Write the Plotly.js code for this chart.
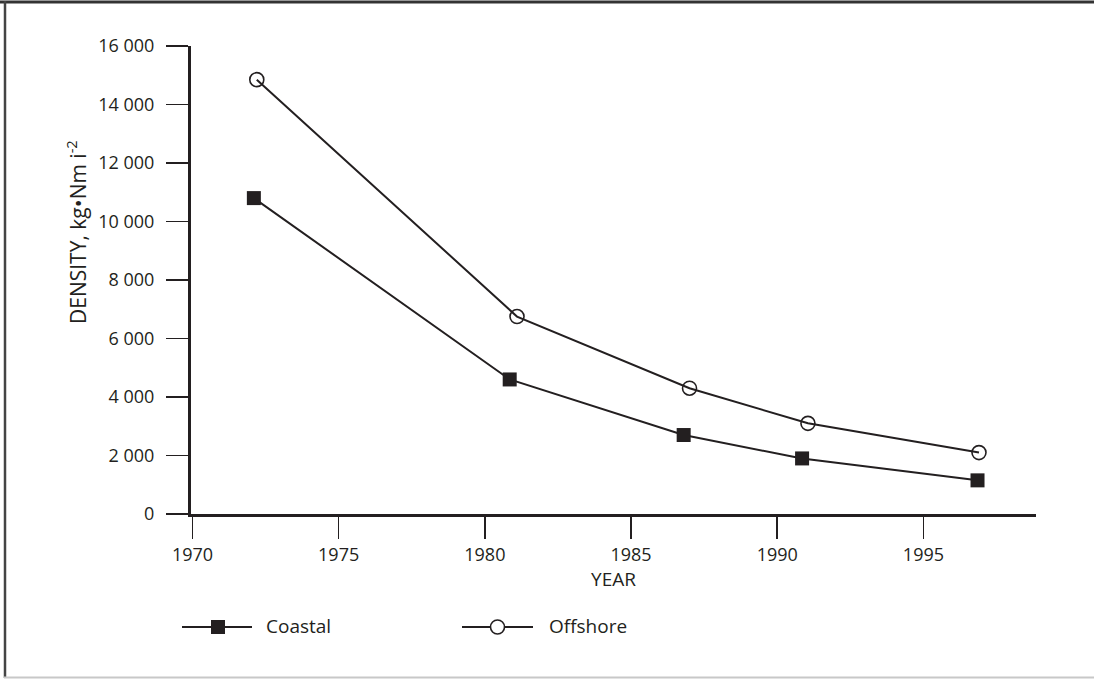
<!DOCTYPE html>
<html>
<head>
<meta charset="utf-8">
<script src="https://cdn.plot.ly/plotly-3.0.1.min.js"></script>
<style>
html,body{margin:0;padding:0;background:#fff;}
#chart{width:1094px;height:679px;}
</style>
</head>
<body>
<div id="chart"></div>
<script>
// Data
var coastalYears  = [1972.1, 1980.85, 1986.8, 1990.85, 1996.85];
var coastalValues = [10800, 4600, 2700, 1900, 1150];
var offshoreYears  = [1972.2, 1981.1, 1987.0, 1991.05, 1996.9];
var offshoreValues = [14850, 6750, 4300, 3100, 2100];
var seriesNames = ["Coastal", "Offshore"];
var yTickValues = [0, 2000, 4000, 6000, 8000, 10000, 12000, 14000, 16000];
var xTickValues = [1970, 1975, 1980, 1985, 1990, 1995];

var INK = "#231f20";
var FONT = "Open Sans, sans-serif";
var W = 1094, H = 679;
var L = 191, R = 1036, T = 46, B = 514;
function px(x){ return (x - L) / (R - L); }
function py(y){ return (B - y) / (B - T); }

var traces = [
  {
    x: coastalYears, y: coastalValues, name: seriesNames[0],
    type: "scatter", mode: "lines+markers",
    line: {color: INK, width: 2},
    marker: {symbol: "square", size: 14, color: INK},
    showlegend: false, cliponaxis: false
  },
  {
    x: offshoreYears, y: offshoreValues, name: seriesNames[1],
    type: "scatter", mode: "lines+markers",
    line: {color: INK, width: 2},
    marker: {symbol: "circle-open", size: 14, color: INK, line: {width: 1.6, color: INK}},
    showlegend: false, cliponaxis: false
  }
];

var shapes = [
  // outer frame
  {type: "line", xref: "paper", yref: "paper", x0: px(0), x1: px(W), y0: py(2), y1: py(2), line: {color: "#333", width: 3}},
  {type: "line", xref: "paper", yref: "paper", x0: px(5), x1: px(5), y0: py(1), y1: py(678), line: {color: "#444", width: 2.5}},
  {type: "line", xref: "paper", yref: "paper", x0: px(4), x1: px(W), y0: py(677.5), y1: py(677.5), line: {color: "#c8c8c8", width: 2}},
  // legend: Coastal
  {type: "line", xref: "paper", yref: "paper", x0: px(182), x1: px(252), y0: py(627), y1: py(627), line: {color: INK, width: 2}},
  {type: "rect", xref: "paper", yref: "paper", x0: px(211), x1: px(225), y0: py(620), y1: py(634), fillcolor: INK, line: {width: 0}},
  // legend: Offshore
  {type: "line", xref: "paper", yref: "paper", x0: px(462), x1: px(533), y0: py(627), y1: py(627), line: {color: INK, width: 2}},
  {type: "circle", xref: "paper", yref: "paper", x0: px(490.5), x1: px(504.5), y0: py(620), y1: py(634), fillcolor: "#fff", line: {color: INK, width: 1.6}}
];

var annotations = [
  {xref: "paper", yref: "paper", x: px(76), y: py(232), text: "DENSITY, kg\u2022Nm i<sup>-2</sup>",
   textangle: -90, showarrow: false, xanchor: "center", yanchor: "middle",
   font: {family: FONT, size: 21, color: INK}},
  {xref: "paper", yref: "paper", x: px(264), y: py(626), text: seriesNames[0], showarrow: false,
   xanchor: "left", yanchor: "middle", font: {family: FONT, size: 19, color: INK}},
  {xref: "paper", yref: "paper", x: px(547), y: py(626), text: seriesNames[1], showarrow: false,
   xanchor: "left", yanchor: "middle", font: {family: FONT, size: 19, color: INK}}
];

var layout = {
  width: W, height: H,
  margin: {l: L, r: W - R, t: T, b: H - B, pad: 0},
  paper_bgcolor: "#fff", plot_bgcolor: "#fff",
  separators: ". ",
  font: {family: FONT, size: 18, color: INK},
  showlegend: false,
  xaxis: {
    range: [1969.95, 1998.85],
    tickvals: xTickValues,
    ticks: "outside", ticklen: 22, tickwidth: 1.5, tickcolor: INK,
    showline: true, linecolor: INK, linewidth: 3,
    showgrid: false, zeroline: false,
    tickfont: {family: FONT, size: 18, color: INK},
    title: {text: "YEAR", font: {family: FONT, size: 19, color: INK}, standoff: 2}
  },
  yaxis: {
    range: [0, 16000],
    tickvals: yTickValues, tickformat: ",d",
    ticks: "outside", ticklen: 22, tickwidth: 1.5, tickcolor: INK,
    ticklabelstandoff: 8,
    showline: true, linecolor: INK, linewidth: 3,
    showgrid: false, zeroline: false,
    tickfont: {family: FONT, size: 18, color: INK}
  },
  shapes: shapes,
  annotations: annotations
};

Plotly.newPlot("chart", traces, layout, {displayModeBar: false, staticPlot: true});
</script>
</body>
</html>
